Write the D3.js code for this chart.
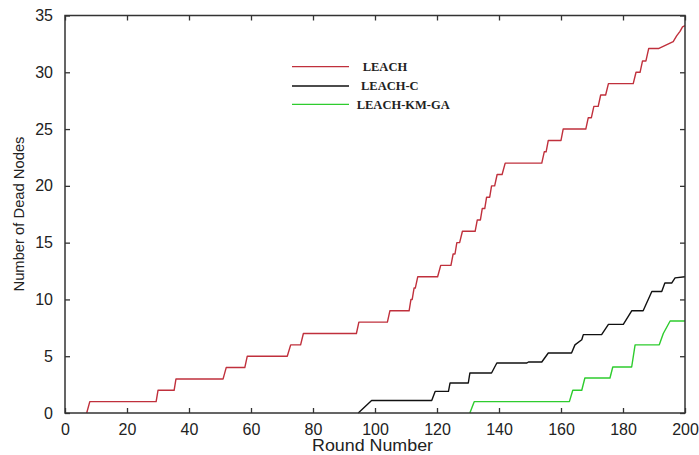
<!DOCTYPE html>
<html>
<head>
<meta charset="utf-8">
<script src="https://cdn.jsdelivr.net/npm/d3@7"></script>
<style>
  html, body { margin: 0; padding: 0; background: #fff; }
  svg text { fill: #222; }
</style>
</head>
<body>
<div id="chart"></div>
<script>
const width = 699;
const height = 455;
const margin = { top: 15.5, right: 14, bottom: 42, left: 65 };

// dead-node counts (round, dead nodes)
const leachRounds = [7, 8, 29.4, 30, 35.2, 35.8, 51, 52, 58, 58.8, 71.7, 72.8, 76, 76.9, 94, 94.8, 104, 104.8, 111, 111.6, 112, 112.6, 113, 113.8, 120.2, 121.2, 124.5, 125.2, 125.8, 126.4, 127.3, 128.2, 132.3, 133, 134, 134.6, 135.4, 136, 137, 137.6, 138.6, 139.4, 141, 142, 153.8, 154.6, 155.2, 155.9, 160, 160.7, 168, 168.8, 169.8, 170.6, 172, 172.8, 174.4, 175.3, 183.3, 184.2, 185.5, 186.3, 187.4, 188.3, 191.6, 196.2, 197.3, 198.4, 199.2, 200];
const leachDead = [0, 1, 1, 2, 2, 3, 3, 4, 4, 5, 5, 6, 6, 7, 7, 8, 8, 9, 9, 10, 10, 11, 11, 12, 12, 13, 13, 14, 14, 15, 15, 16, 16, 17, 17, 18, 18, 19, 19, 20, 20, 21, 21, 22, 22, 23, 23, 24, 24, 25, 25, 26, 26, 27, 27, 28, 28, 29, 29, 30, 30, 31, 31, 32.1, 32.1, 32.7, 33.2, 33.6, 34, 34.1];

const leachCRounds = [94.6, 98.9, 118.3, 119.4, 123.7, 124.2, 130.1, 130.6, 137.6, 139.3, 148.9, 149.5, 153.8, 155.9, 163.4, 164.5, 166.7, 167.2, 173.1, 175.3, 180.1, 182.8, 186.5, 189.3, 192.5, 193.5, 195.7, 196.8, 200];
const leachCDead = [0, 1.1, 1.1, 1.9, 1.9, 2.64, 2.64, 3.52, 3.52, 4.4, 4.4, 4.49, 4.49, 5.28, 5.28, 6.0, 6.45, 6.9, 6.9, 7.8, 7.8, 9.0, 9.0, 10.7, 10.7, 11.44, 11.44, 11.9, 12.0];

const kmgaRounds = [130.6, 132, 162.7, 163.8, 166.7, 167.7, 175.8, 176.7, 182.8, 183.9, 191.7, 193, 195.2, 200];
const kmgaDead = [0, 1, 1, 2, 2, 3.08, 3.08, 4.05, 4.05, 6.0, 6.0, 7.0, 8.1, 8.1];

const xTicks = [0, 20, 40, 60, 80, 100, 120, 140, 160, 180, 200];
const yTicks = [0, 5, 10, 15, 20, 25, 30, 35];

const seriesNames = ["LEACH", "LEACH-C", "LEACH-KM-GA"];
const seriesColors = ["#c0303c", "#111111", "#2ecc2e"];

const series = [
  { name: seriesNames[0], color: seriesColors[0], values: leachRounds.map((r, i) => [r, leachDead[i]]) },
  { name: seriesNames[1], color: seriesColors[1], values: leachCRounds.map((r, i) => [r, leachCDead[i]]) },
  { name: seriesNames[2], color: seriesColors[2], values: kmgaRounds.map((r, i) => [r, kmgaDead[i]]) },
];

const svg = d3
  .select("#chart")
  .append("svg")
  .attr("width", width)
  .attr("height", height)
  .attr("viewBox", `0 0 ${width} ${height}`);

const x = d3.scaleLinear().domain([0, 200]).range([margin.left, width - margin.right]);
const y = d3.scaleLinear().domain([0, 35]).range([height - margin.bottom, margin.top]);

const font = "'Liberation Sans', Arial, sans-serif";

// axes with inward ticks, mirrored on top/right
const axisColor = "#333";
function styleAxis(g, showLabels) {
  g.select(".domain").remove();
  g.selectAll(".tick line").attr("stroke", axisColor).attr("stroke-width", 1.3);
  g.selectAll(".tick text")
    .style("font-family", font)
    .style("font-size", "16px")
    .attr("fill", "#222");
  if (!showLabels) g.selectAll(".tick text").remove();
}

svg.append("g")
  .attr("transform", `translate(0,${y(0)})`)
  .call(d3.axisBottom(x).tickValues(xTicks).tickSize(-5).tickPadding(11).tickFormat(d3.format("d")))
  .call((g) => styleAxis(g, true));

svg.append("g")
  .attr("transform", `translate(0,${y(35)})`)
  .call(d3.axisTop(x).tickValues(xTicks).tickSize(-5))
  .call((g) => styleAxis(g, false));

svg.append("g")
  .attr("transform", `translate(${x(0)},0)`)
  .call(d3.axisLeft(y).tickValues(yTicks).tickSize(-5).tickPadding(12).tickFormat(d3.format("d")))
  .call((g) => styleAxis(g, true));

svg.append("g")
  .attr("transform", `translate(${x(200)},0)`)
  .call(d3.axisRight(y).tickValues(yTicks).tickSize(-5))
  .call((g) => styleAxis(g, false));

const line = d3.line()
  .x((d) => x(d[0]))
  .y((d) => y(d[1]));

svg.append("g")
  .selectAll("path")
  .data(series)
  .join("path")
  .attr("d", (d) => line(d.values))
  .attr("fill", "none")
  .attr("stroke", (d) => d.color)
  .attr("stroke-width", 1.4)
  .attr("stroke-linejoin", "round");

// plot frame (drawn over the curves, like the original)
svg.append("rect")
  .attr("x", x(0))
  .attr("y", y(35))
  .attr("width", x(200) - x(0))
  .attr("height", y(0) - y(35))
  .attr("fill", "none")
  .attr("stroke", axisColor)
  .attr("stroke-width", 1.5);

// legend (no box)
const legend = svg.append("g");
const legendY = [66.7, 86, 104.3];
const legendTextX = [362.7, 361, 356.7];
series.forEach((s, i) => {
  legend.append("line")
    .attr("x1", 292).attr("x2", 349)
    .attr("y1", legendY[i]).attr("y2", legendY[i])
    .attr("stroke", s.color)
    .attr("stroke-width", 1.3);
  legend.append("text")
    .attr("x", legendTextX[i])
    .attr("y", legendY[i] + 4.2)
    .style("font-family", "'Liberation Serif', 'Times New Roman', serif")
    .style("font-size", "12.5px")
    .style("font-weight", "bold")
    .attr("fill", "#222")
    .text(s.name);
});

// axis titles
svg.append("text")
  .attr("x", 372.5)
  .attr("y", 451)
  .attr("text-anchor", "middle")
  .attr("textLength", 121)
  .attr("lengthAdjust", "spacingAndGlyphs")
  .style("font-family", font)
  .style("font-size", "16px")
  .attr("fill", "#222")
  .text("Round Number");

svg.append("text")
  .attr("transform", `translate(24,214) rotate(-90)`)
  .attr("text-anchor", "middle")
  .attr("textLength", 155)
  .attr("lengthAdjust", "spacingAndGlyphs")
  .style("font-family", font)
  .style("font-size", "15px")
  .attr("fill", "#222")
  .text("Number of Dead Nodes");
</script>
</body>
</html>
